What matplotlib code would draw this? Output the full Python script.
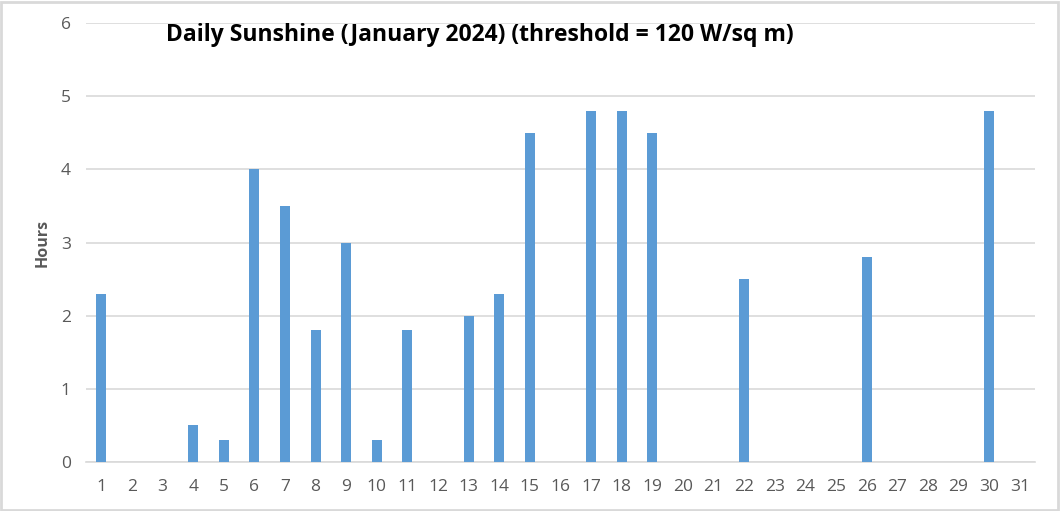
import matplotlib
matplotlib.use("Agg")
import matplotlib.pyplot as plt
from matplotlib.patches import Rectangle

days = list(range(1, 32))
hours = [2.3, 0, 0, 0.5, 0.3, 4.0, 3.5, 1.8, 3.0, 0.3, 1.8, 0, 2.0, 2.3, 4.5, 0,
         4.8, 4.8, 4.5, 0, 0, 2.5, 0, 0, 0, 2.8, 0, 0, 0, 4.8, 0]
title = "Daily Sunshine (January 2024) (threshold = 120 W/sq m)"
ylabel = "Hours"

plt.rcParams['font.family'] = ['Open Sans', 'DejaVu Sans']

fig = plt.figure(figsize=(10.6, 5.11), dpi=100)
ax = fig.add_axes([86/1060, 1-462/511, (1035-86)/1060, (462-23)/511])
ax.bar(days, hours, width=0.33, color='#5B9BD5', zorder=3)
ax.set_xlim(0.5, 31.5)
ax.set_ylim(0, 6)
ax.set_yticks(range(0, 7))
ax.set_xticks(days)
ax.grid(axis='y', color='#D9D9D9', linewidth=1.2, zorder=0)
for s in ['top', 'right', 'left']:
    ax.spines[s].set_visible(False)
ax.spines['bottom'].set_color('#D9D9D9')
ax.spines['bottom'].set_linewidth(1.2)
ax.tick_params(axis='both', length=0, labelsize=12.5, colors='#595959')
ax.tick_params(axis='y', pad=11)
ax.tick_params(axis='x', pad=12)
ax.set_ylabel(ylabel, fontsize=11.5, fontweight='bold', color='#595959', labelpad=7)
fig.text(480/1060, 1-35/511, title, fontsize=16.5, fontweight='bold', color='black',
         ha='center', va='center')
fig.patches.append(Rectangle((0.001, 0.002), 0.997, 0.995, transform=fig.transFigure,
                             fill=False, edgecolor='#D9D9D9', linewidth=2))
fig.savefig("out.png", dpi=100)
